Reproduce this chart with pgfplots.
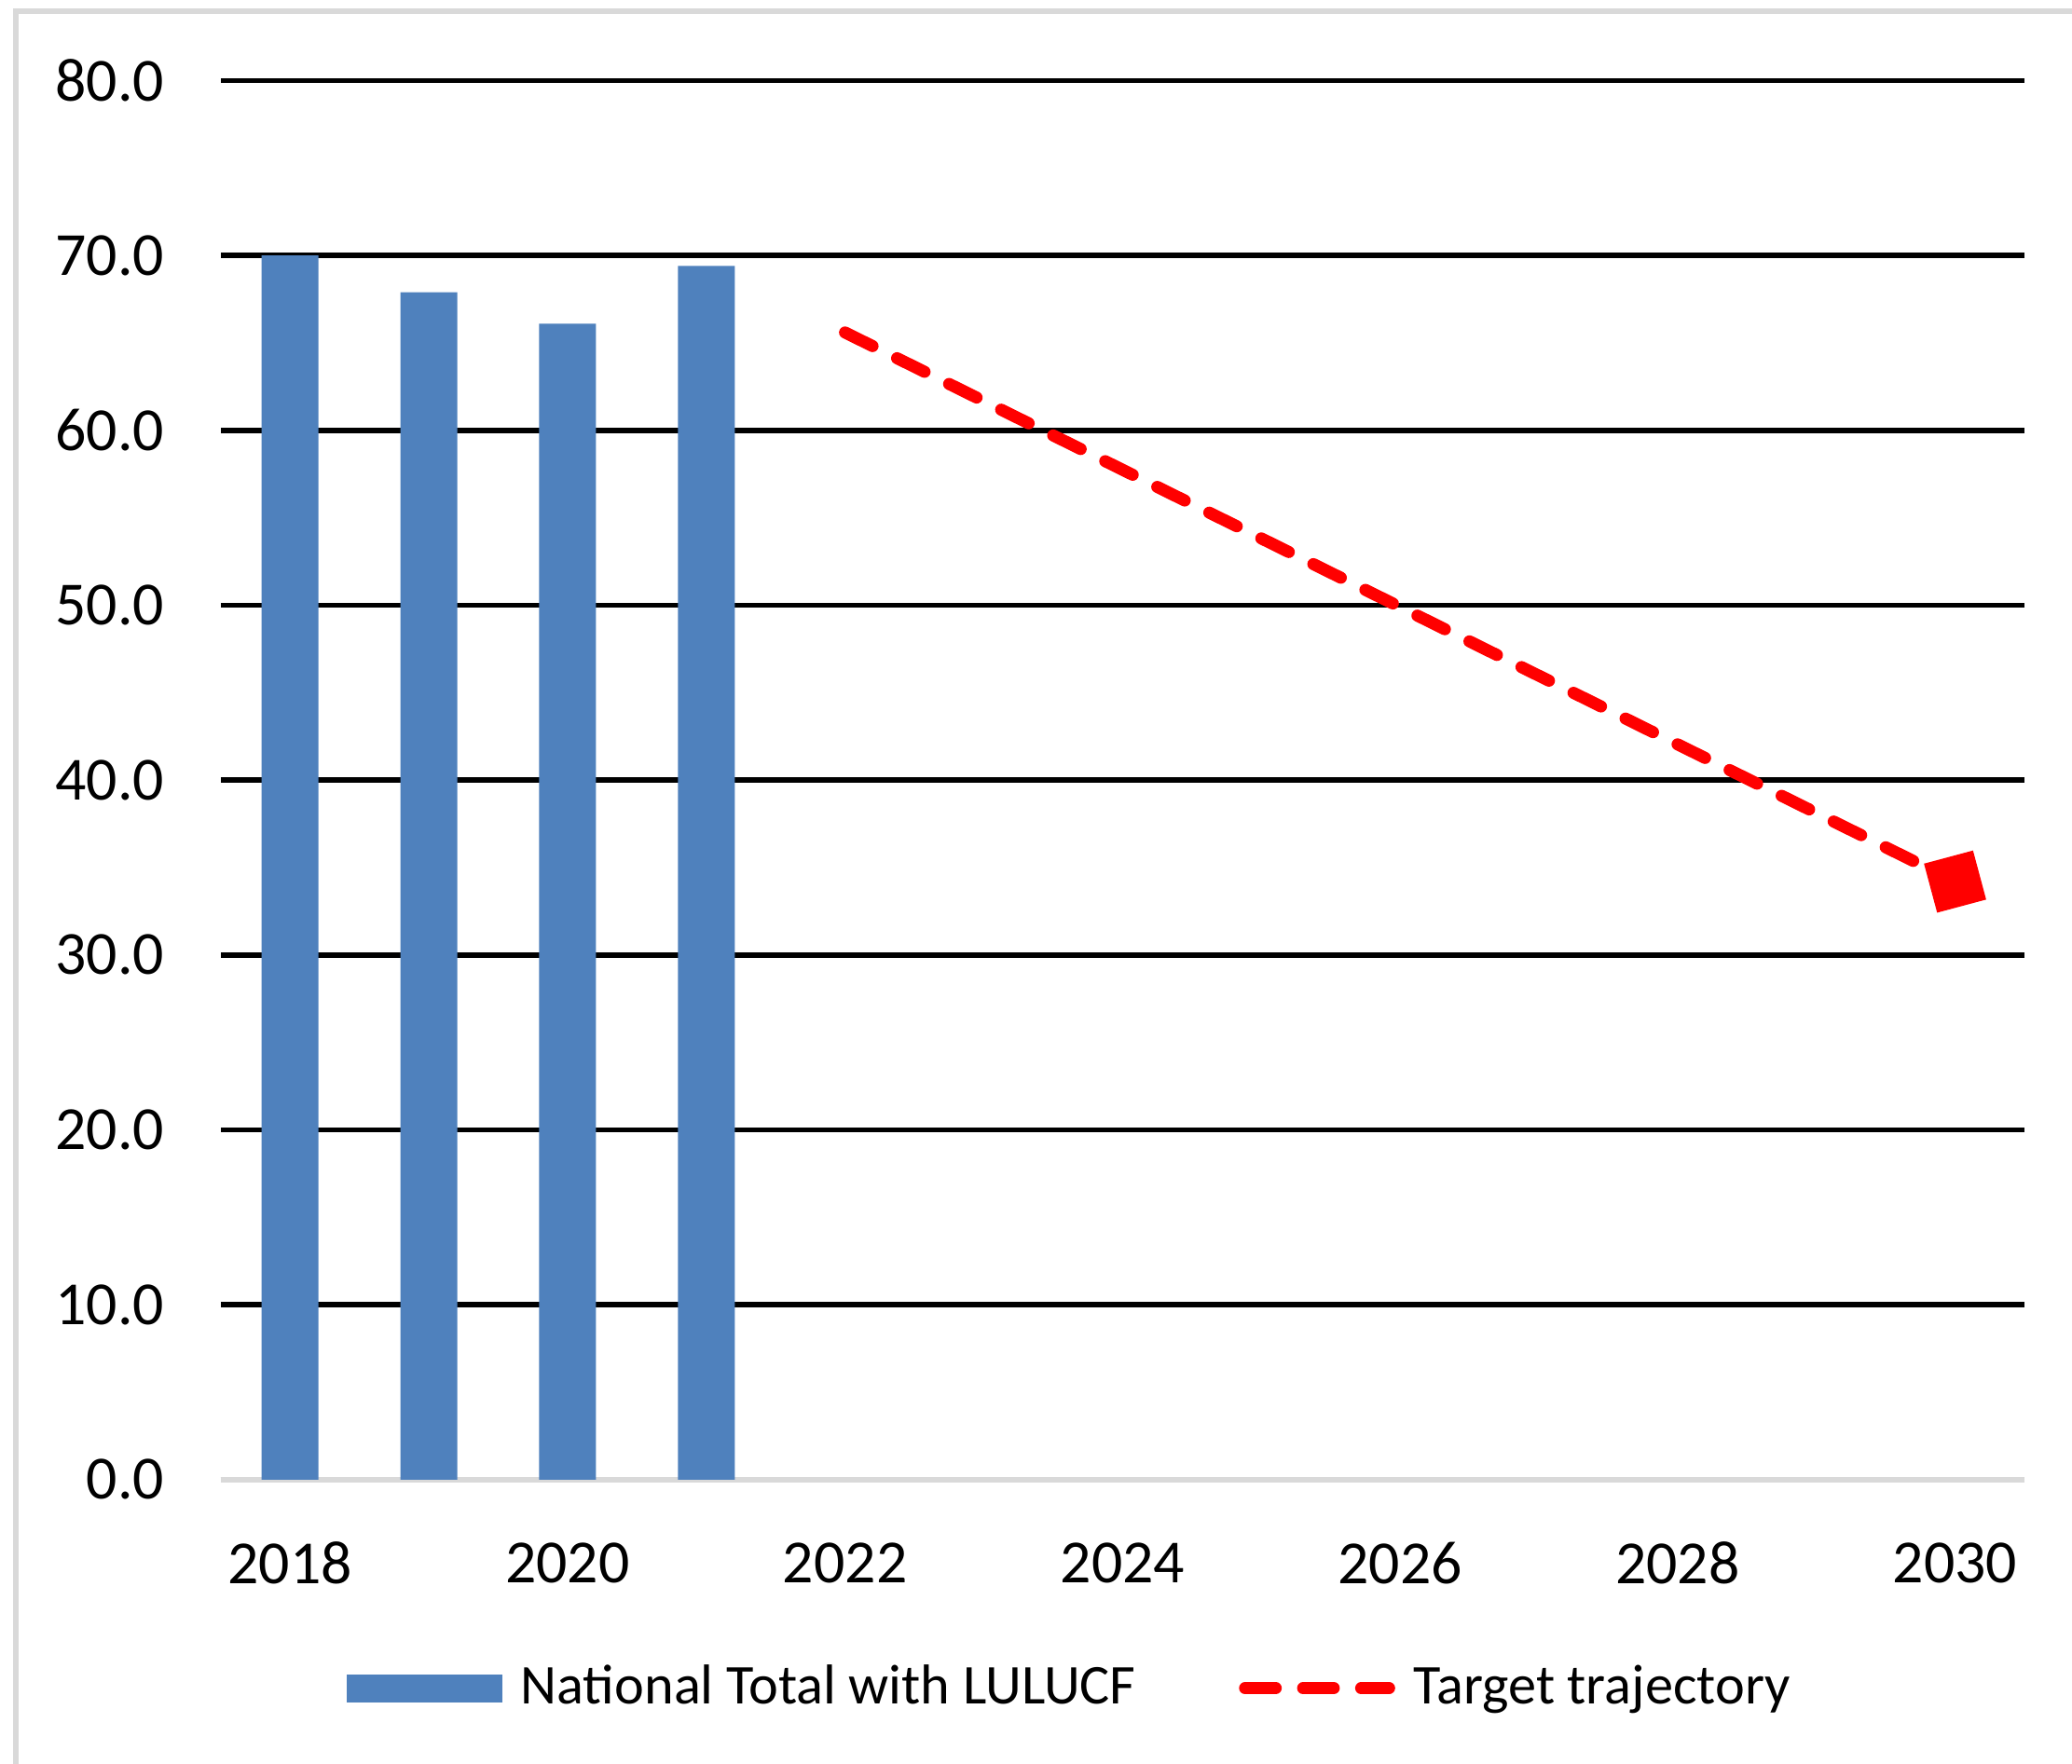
\documentclass[border=0pt]{standalone}
\usepackage{pgfplots}
\pgfplotsset{compat=1.18}
\usepackage{fontspec}
\setmainfont{Carlito}
\definecolor{barblue}{RGB}{79,129,189}
\definecolor{framegray}{RGB}{217,217,217}
\begin{document}
\begin{tikzpicture}
\useasboundingbox (0,0) rectangle (15.68cm,-13.35cm);
\draw[framegray, line width=0.4mm] (0.12cm,-13.5cm) -- (0.12cm,-0.085cm) -- (15.8cm,-0.085cm);
\begin{axis}[
  at={(1.67cm,-11.20cm)}, anchor=south west,
  scale only axis, width=13.65cm, height=10.59cm,
  xmin=2017.5, xmax=2030.5, ymin=0, ymax=80,
  xtick={2018,2020,...,2030}, ytick={0,10,...,80},
  axis x line*=bottom, axis y line*=left,
  y axis line style={draw=none},
  x axis line style={framegray, line width=0.4mm, -},
  major tick length=0pt,
  ymajorgrids, grid style={black, line width=0.4mm},
  /pgf/number format/assume math mode=true,
  tick label style={font=\fontsize{13.2}{15}\selectfont},
  xticklabel style={anchor=center, yshift=-6.3mm, /pgf/number format/1000 sep={}},
  yticklabel style={anchor=east, inner sep=0pt, xshift=-4.2mm,
    /pgf/number format/.cd, fixed, fixed zerofill, precision=1},
  legend style={at={(0.475,-0.149)}, anchor=center, draw=none, fill=none,
    legend columns=2, font=\fontsize{12.1}{14}\selectfont,
    /tikz/every even column/.append style={column sep=6.4mm},
    inner sep=0pt, nodes={inner xsep=1.4mm, inner ysep=0.6mm}},
  clip=false,
]
\addplot[ybar, bar width=4.3mm, fill=barblue, draw=none,
  legend image code/.code={\fill[barblue] (0mm,-1.05mm) rectangle (11.8mm,1.05mm);}]
  coordinates {(2018,70.0) (2019,67.9) (2020,66.1) (2021,69.4)};
\addlegendentry{National Total with LULUCF}
\addplot[red, line width=2.6pt, dash pattern=on 6.6pt off 5.9pt, line cap=round,
  legend image code/.code={\draw[red, line width=2.6pt, dash pattern=on 6.6pt off 5.9pt, line cap=round] (0.45mm,0) -- (11.35mm,0);}]
  coordinates {(2022,65.6) (2030,34.2)};
\addlegendentry{Target trajectory}
\addplot[red, only marks, mark=square*, mark size=1.85mm, mark options={rotate=15, solid}, forget plot]
  coordinates {(2030,34.2)};
\end{axis}
\end{tikzpicture}
\end{document}
